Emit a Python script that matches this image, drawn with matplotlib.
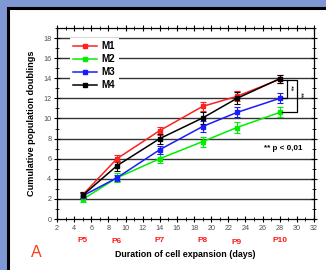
import matplotlib
matplotlib.use("Agg")
import matplotlib.pyplot as plt
from matplotlib.patches import Rectangle
from matplotlib.lines import Line2D
from matplotlib.ticker import MultipleLocator

plt.rcParams['font.family'] = ['Liberation Sans', 'DejaVu Sans']

# days of culture at each passage
days = [5, 9, 14, 19, 23, 28]
passages = ['P5', 'P6', 'P7', 'P8', 'P9', 'P10']

m1 = [2.4, 6.0, 8.8, 11.2, 12.2, 13.9]
m1_err = [0.3, 0.35, 0.4, 0.45, 0.5, 0.4]
m2 = [1.95, 4.1, 6.0, 7.7, 9.1, 10.6]
m2_err = [0.3, 0.45, 0.45, 0.5, 0.5, 0.5]
m3 = [2.3, 4.1, 6.9, 9.2, 10.6, 12.0]
m3_err = [0.3, 0.3, 0.4, 0.5, 0.5, 0.5]
m4 = [2.35, 5.3, 8.0, 10.05, 12.0, 13.95]
m4_err = [0.3, 0.5, 0.5, 0.6, 0.6, 0.4]

W, H = 326, 270
fig = plt.figure(figsize=(W / 100, H / 100), dpi=100)
fig.patch.set_facecolor('#7f98d4')
# white slide panel with dark border on top/left
fig.patches.append(Rectangle((7.5 / W, -0.2), 1.5, 1.2 - 7.5 / H,
                             transform=fig.transFigure, facecolor='white',
                             edgecolor='black', linewidth=2.2, zorder=-10))

ax = fig.add_axes([57 / W, 51 / H, 257 / W, 191 / H])
ax.set_facecolor('white')

series = [
    (m2, m2_err, '#00ee00'),
    (m3, m3_err, '#1a1aff'),
    (m1, m1_err, '#ff2020'),
    (m4, m4_err, 'black'),
]
for y, e, c in series:
    ax.errorbar(days, y, yerr=e, color=c, marker='s', markersize=3.5,
                linewidth=1.1, elinewidth=0.8, capsize=2, capthick=0.8, zorder=3)

ax.set_xlim(2, 32)
ax.set_ylim(0, 19)
ax.xaxis.set_major_locator(MultipleLocator(2))
ax.xaxis.set_minor_locator(MultipleLocator(1))
ax.yaxis.set_major_locator(MultipleLocator(2))
ax.yaxis.set_minor_locator(MultipleLocator(1))
ax.tick_params(which='major', direction='inout', length=5, width=0.8,
               labelsize=5.2, labelcolor='#505050', pad=1.5,
               top=True, right=True, labeltop=False, labelright=False)
ax.tick_params(which='minor', direction='inout', length=2.5, width=0.6,
               top=True, right=True)
for s in ax.spines.values():
    s.set_linewidth(0.9)

for v in range(2, 19, 2):
    ax.axhline(v, color='#333333', linewidth=1.0, zorder=1)

ax.set_ylabel('Cumulative population doublings', fontsize=6.6, fontweight='bold',
              labelpad=5)
ax.set_xlabel('Duration of cell expansion (days)', fontsize=6.4, fontweight='bold',
              labelpad=13)

# passage labels under the x axis
offs = [0, 1.5, 0, 0, 2, 1]
for d, p, o in zip(days, passages, offs):
    ax.annotate(p, xy=(d, 0), xycoords='data', xytext=(0, -21 - o),
                textcoords='offset pixels', ha='center', va='center',
                fontsize=6, fontweight='bold', color='#ff1a1a')

# significance brackets
xb0, xb1, xb2 = 28.25, 28.8, 30.0
ax.plot([xb0, xb1, xb1, xb0], [m4[-1] - 0.1, m4[-1] - 0.1, m3[-1], m3[-1]],
        color='black', linewidth=0.9, zorder=4)
ax.plot([xb1, xb2, xb2, xb0], [m4[-1] - 0.1, m4[-1] - 0.1, m2[-1], m2[-1]],
        color='black', linewidth=0.9, zorder=4)
ax.text(29.25, (m4[-1] + m3[-1]) / 2, '**', rotation=-90, fontsize=6,
        ha='center', va='center')
ax.text(30.4, (m4[-1] + m2[-1]) / 2, '**', rotation=-90, fontsize=6,
        ha='center', va='center')
ax.text(30.6, 7.0, '** p < 0,01', fontsize=5.8, fontweight='bold',
        ha='right', va='center')

handles = [
    Line2D([], [], color='#ff2020', marker='s', markersize=3.5, linewidth=1.1),
    Line2D([], [], color='#00ee00', marker='s', markersize=3.5, linewidth=1.1),
    Line2D([], [], color='#1a1aff', marker='s', markersize=3.5, linewidth=1.1),
    Line2D([], [], color='black', marker='s', markersize=3.5, linewidth=1.1),
]
leg = ax.legend(handles, ['M1', 'M2', 'M3', 'M4'], loc='upper left',
                bbox_to_anchor=(13 / 257, 181 / 191), borderaxespad=0,
                prop={'size': 7, 'weight': 'bold'}, handlelength=2.4,
                handletextpad=0.5, labelspacing=0.3, borderpad=0.35,
                frameon=True, fancybox=False)
leg.get_frame().set_facecolor('white')
leg.get_frame().set_edgecolor('none')
leg.get_frame().set_alpha(1)
leg.set_zorder(5)

fig.text(36.7 / W, 1 - 252.5 / H, 'A', fontsize=11.5, color='#ff3c14',
         ha='center', va='center')

fig.savefig('out.png', dpi=100, facecolor=fig.get_facecolor())
